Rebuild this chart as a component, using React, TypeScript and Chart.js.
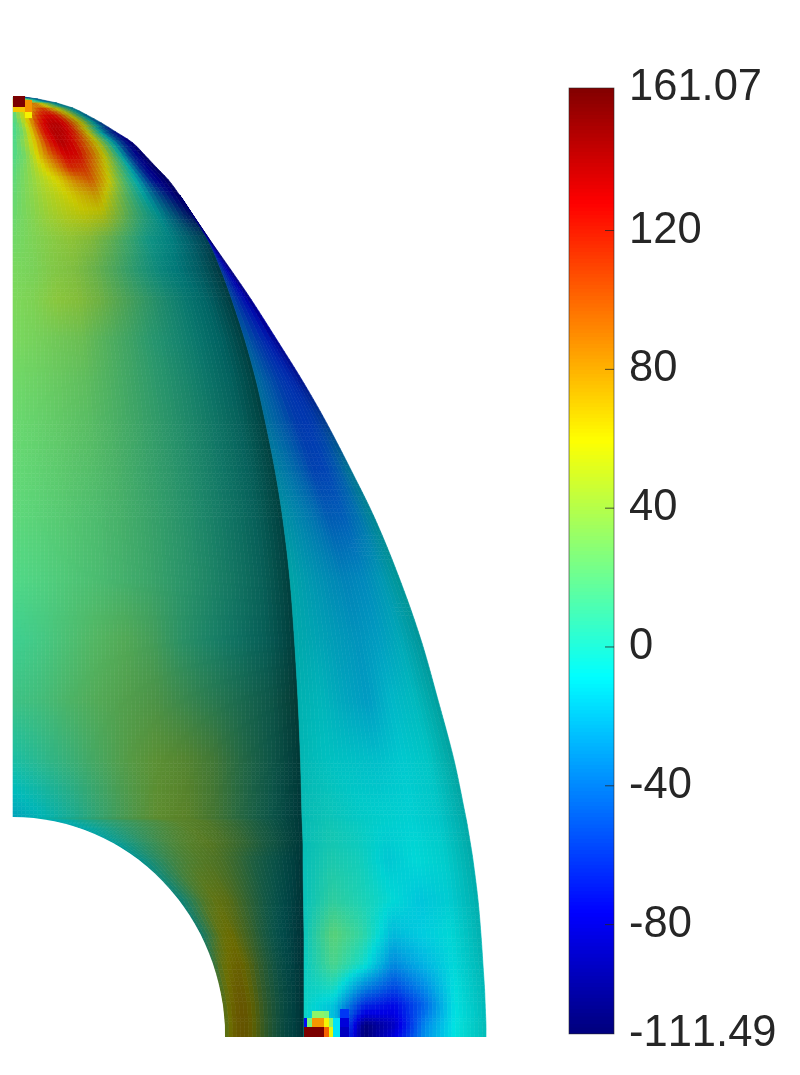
import React, { useEffect, useRef } from "react";
import { Chart, registerables } from "chart.js";

Chart.register(...registerables);

const COLOR_MIN = -111.49;
const COLOR_MAX = 161.07;
const colorbarTicks = [161.07, 120, 80, 40, 0, -40, -80, -111.49];
const colorbarInnerTicks = [120, 80, 40, 0, -40, -80];

// Mesh rows (model height) and their boundaries (model x)
const rowHeight = [9.40, 9.38, 9.34, 9.29, 9.22, 9.14, 9.05, 8.94, 8.82, 8.69, 8.57, 8.42, 8.22, 7.97, 7.67, 7.37, 6.97, 6.57, 6.17, 5.67, 5.17, 4.57, 3.97, 3.37, 2.77, 2.19, 2.16, 2.08, 1.93, 1.77, 1.37, 1.02, 0.72, 0.47, 0.32, 0.22, 0.12, 0];
const innerEdge = [0, 0, 0, 0, 0, 0, 0, 0, 0, 0, 0, 0, 0, 0, 0, 0, 0, 0, 0, 0, 0, 0, 0, 0, 0, 0, 0.40, 0.69, 1.02, 1.26, 1.66, 1.88, 2.00, 2.07, 2.10, 2.11, 2.12, 2.12];
const interfaceEdge = [0.11, 0.25, 0.44, 0.60, 0.74, 0.886, 1.03, 1.20, 1.317, 1.44, 1.555, 1.665, 1.795, 1.95, 2.08, 2.19, 2.32, 2.43, 2.52, 2.62, 2.70, 2.77, 2.815, 2.85, 2.875, 2.89, 2.892, 2.895, 2.90, 2.90, 2.905, 2.91, 2.91, 2.91, 2.91, 2.91, 2.91, 2.91];
const outerEdge = [0.11, 0.25, 0.44, 0.60, 0.74, 0.886, 1.03, 1.20, 1.317, 1.44, 1.555, 1.665, 1.80, 1.97, 2.18, 2.385, 2.64, 2.89, 3.12, 3.38, 3.625, 3.87, 4.08, 4.25, 4.41, 4.53, 4.536, 4.55, 4.575, 4.60, 4.65, 4.68, 4.70, 4.716, 4.722, 4.726, 4.73, 4.73];
const HOLE_RX = 2.12;
const HOLE_RY = 2.2;

// Field values on the front face: one row per rowHeight, 11 nodes across
const frontValues = [
  [-30, -30, -30, -30, -30, -30, -30, -30, -30, -35, -40],
  [60, 60, 50, 30, 10, 0, -10, -20, -25, -35, -45],
  [90, 90, 90, 88, 80, 70, 55, 35, 15, -10, -25],
  [20, 40, 65, 75, 95, 105, 80, 60, 40, 10, -25],
  [14, 45, 68, 100, 120, 124, 116, 82, 50, 10, -35],
  [12, 35, 75, 116, 134, 136, 122, 90, 55, 5, -50],
  [12, 28, 72, 120, 138, 134, 116, 72, 20, -35, -72],
  [13, 36, 70, 116, 138, 126, 98, 60, 10, -45, -92],
  [15, 28, 66, 100, 128, 124, 94, 56, 6, -58, -95],
  [18, 32, 55, 80, 114, 110, 78, 40, -2, -65, -95],
  [20, 33, 48, 62, 85, 98, 66, 26, -12, -70, -95],
  [22, 33, 45, 55, 66, 75, 46, 18, -12, -50, -90],
  [24, 32, 42, 50, 56, 54, 34, 13, -6, -30, -70],
  [26, 31, 36, 40, 38, 28, 14, -2, -8, -16, -25],
  [29, 30, 35, 36, 30, 20, 8, -3, -10, -14, -18],
  [30, 32, 38, 38, 33, 24, 14, 4, -5, -11, -15],
  [29, 29, 29, 29, 23, 17, 9, 3, -4, -9, -12],
  [26, 26, 26, 25, 21, 16, 10, 5, -2, -7, -10],
  [24, 24, 24, 23, 20, 16, 11, 6, 0, -5, -9],
  [22, 22, 22, 21, 19, 15, 11, 6, 0, -5, -8],
  [20, 20, 20, 19, 18, 15, 11, 6, 1, -4, -8],
  [16, 17, 18, 18, 17, 15, 11, 7, 2, -3, -7],
  [11, 14, 18, 22, 24, 20, 11, 5, 0, -4, -8],
  [12, 15, 20, 24, 26, 26, 20, 14, 8, 2, -3],
  [0, 7, 13, 20, 28, 34, 34, 28, 14, 2, -8],
  [-18, -10, 0, 12, 24, 36, 38, 30, 14, 0, -10],
  [-14, -4, 6, 16, 26, 36, 38, 28, 14, 0, -10],
  [-12, -2, 10, 20, 30, 38, 36, 26, 12, 0, -10],
  [-10, 4, 16, 28, 36, 40, 34, 24, 10, 0, -10],
  [-8, 8, 22, 32, 38, 36, 26, 12, 2, -6, -12],
  [-5, 14, 36, 48, 46, 32, 18, 5, -4, -10, -14],
  [-2, 25, 52, 58, 42, 28, 12, 0, -8, -12, -15],
  [18, 50, 62, 64, 50, 30, 15, 2, -6, -12, -15],
  [35, 58, 68, 65, 48, 28, 15, 3, -5, -11, -15],
  [40, 62, 70, 67, 50, 30, 16, 4, -5, -11, -15],
  [42, 64, 71, 67, 50, 30, 16, 4, -5, -11, -15],
  [42, 64, 71, 67, 50, 30, 16, 4, -5, -11, -15],
  [42, 64, 71, 67, 50, 30, 16, 4, -5, -11, -15],
];

// Field values on the side face: rows from rowHeight 8.42 downward, 7 nodes across
const SIDE_FIRST_ROW = 11;
const sideValues = [
  [-100, -100, -100, -100, -100, -100, -100],
  [-80, -85, -90, -92, -95, -98, -100],
  [-62, -68, -74, -80, -86, -92, -98],
  [-50, -58, -65, -72, -78, -85, -92],
  [-45, -52, -60, -66, -72, -78, -85],
  [-36, -44, -52, -58, -64, -70, -76],
  [-30, -38, -46, -54, -58, -62, -68],
  [-28, -36, -44, -54, -56, -54, -50],
  [-22, -30, -40, -52, -52, -42, -22],
  [-16, -24, -32, -42, -42, -32, -14],
  [-10, -18, -24, -29, -28, -20, -9],
  [-10, -15, -20, -24, -22, -15, -11],
  [-9, -11, -18, -23, -15, -11, -9],
  [-8, -9, -11, -13, -11, -9, -8],
  [-7, -5, -8, -9, -10, -10, -9],
  [-7, -4, -7, -9, -10, -10, -9],
  [-7, -3, -6, -10, -10, -10, -9],
  [-7, -2, -5, -11, -9, -9, -9],
  [-7, 0, -3, -13, -9, -9, -9],
  [-7, 6, 0, -8, -16, -11, -9],
  [-6, 20, 6, -20, -15, -9, -9],
  [-7, 14, -5, -36, -24, -10, -9],
  [-6, -3, -40, -58, -38, -9, -9],
  [-5, -16, -64, -75, -48, -9, -9],
  [-5, -20, -80, -80, -44, -9, -9],
  [-5, -10, -108, -88, -38, -8, -8],
  [-5, -22, -110, -80, -35, -8, -8],
];

// Single oversized cells at the two singular corners: [x0, x1, y0, y1, value]
const cornerCells = [
  [0, 0.12, 9.30, 9.41, 161],
  [0, 0.12, 9.25, 9.30, 72],
  [0.12, 0.19, 9.25, 9.37, 86],
  [0.12, 0.19, 9.19, 9.25, 60],
  [3.20, 3.27, 0, 0.19, -14],
  [3.27, 3.36, 0, 0.10, -92],
  [3.27, 3.36, 0.10, 0.19, -85],
  [3.27, 3.36, 0.19, 0.28, -62],
  [2.91, 3.11, 0, 0.10, 161],
  [3.11, 3.16, 0, 0.10, 100],
  [3.16, 3.20, 0, 0.10, 55],
  [2.91, 2.94, 0.10, 0.19, -75],
  [2.94, 2.99, 0.10, 0.19, 25],
  [2.99, 3.11, 0.10, 0.19, 85],
  [3.11, 3.16, 0.10, 0.19, 58],
  [3.16, 3.20, 0.10, 0.19, 30],
  [2.99, 3.11, 0.19, 0.26, 30],
  [3.11, 3.16, 0.19, 0.26, 25],
];

// Lighting of the surface
const frontShade = [0.85, 0.82, 0.78, 0.74, 0.69, 0.64, 0.59, 0.53, 0.46, 0.38, 0.25];
const capShade = [0.85, 0.845, 0.84, 0.83, 0.82, 0.80, 0.78, 0.72, 0.65, 0.55, 0.5];
const capBlend = [1, 1, 1, 1, 1, 1, 1, 1, 1, 1, 1, 0.75, 0.5, 0.25, 0];
const rowDim = [1, 1, 1, 1, 1, 1, 1, 1, 1, 1, 1, 1, 1, 1, 1, 1, 1, 1, 1, 1, 1, 1, 0.96, 0.9, 0.88, 0.86, 0.86, 0.86, 0.86, 0.85, 0.85, 0.85, 0.85, 0.85, 0.85, 0.85, 0.85, 0.85];
const sideShade = [0.76, 0.8, 0.82, 0.84, 0.86, 0.82, 0.68];
const sideDim = [0.8, 0.8, 0.8, 0.8, 0.8, 0.8, 0.8, 0.8, 0.82, 0.84, 0.86, 0.88, 0.91, 0.94, 0.96, 0.96, 0.97, 0.97, 0.98, 1, 1.02, 1.04, 1.06, 1.07, 1.08, 1.08, 1.08];

const TICK_COLOR = "#262626";

function lookup(table: number[], t: number) {
  const p = Math.max(0, Math.min(1, t)) * (table.length - 1);
  const i = Math.min(table.length - 2, Math.floor(p));
  return table[i] + (table[i + 1] - table[i]) * (p - i);
}

function jet(v: number): [number, number, number] {
  const t = Math.max(0, Math.min(1, (v - COLOR_MIN) / (COLOR_MAX - COLOR_MIN)));
  const ramp = (c: number) => Math.max(0, Math.min(1, 1.5 - Math.abs(4 * t - c)));
  return [ramp(3), ramp(2), ramp(1)];
}

function css(v: number, s: number) {
  const [r, g, b] = jet(v);
  const k = Math.min(1, s) * 255;
  return `rgb(${Math.round(r * k)},${Math.round(g * k)},${Math.round(b * k)})`;
}

function flatten(values: number[][], first: number, left: number[], right: number[]) {
  const nodes: { x: number; y: number; v: number }[] = [];
  values.forEach((row, i) => {
    const r = i + first;
    row.forEach((v, j) => {
      nodes.push({ x: left[r] + ((right[r] - left[r]) * j) / (row.length - 1), y: rowHeight[r], v });
    });
  });
  return nodes;
}

// Smooth rendering of a boundary through its read-off points (cubic Hermite, chord-length knots)
function curvePoint(edge: number[], r: number): [number, number] {
  const n = edge.length;
  const i = Math.max(0, Math.min(n - 2, Math.floor(r)));
  const u = r - i;
  const P = (k: number) => {
    const c = Math.max(0, Math.min(n - 1, k));
    return [edge[c], rowHeight[c]];
  };
  const d = (a: number[], b: number[]) => Math.hypot(a[0] - b[0], a[1] - b[1]) || 1e-6;
  const p0 = P(i), p1 = P(i + 1), pm = P(i - 1), pp = P(i + 2);
  const seg = d(p0, p1);
  const tan = (a: number[], b: number[], da: number, db: number) => [(b[0] - a[0]) / (da + db), (b[1] - a[1]) / (da + db)];
  const m0 = tan(pm, p1, i > 0 ? d(pm, p0) : 0, seg);
  const m1 = tan(p0, pp, seg, i + 2 < n ? d(p1, pp) : 0);
  const h00 = 2 * u * u * u - 3 * u * u + 1, h10 = u * u * u - 2 * u * u + u;
  const h01 = -2 * u * u * u + 3 * u * u, h11 = u * u * u - u * u;
  return [
    h00 * p0[0] + h10 * seg * m0[0] + h01 * p1[0] + h11 * seg * m1[0],
    h00 * p0[1] + h10 * seg * m0[1] + h01 * p1[1] + h11 * seg * m1[1],
  ];
}

function linearPoint(edge: number[], r: number): [number, number] {
  const i = Math.max(0, Math.min(edge.length - 2, Math.floor(r)));
  const u = r - i;
  return [edge[i] + (edge[i + 1] - edge[i]) * u, rowHeight[i] + (rowHeight[i + 1] - rowHeight[i]) * u];
}

const meshPlugin = {
  id: "mesh",
  beforeKerningNoop: null,
  beforeDatasetsDraw(chart: any) {
    const { ctx, scales } = chart;
    const X = (x: number) => scales.x.getPixelForValue(x);
    const Y = (y: number) => scales.y.getPixelForValue(y);

    const drawGrid = (
      nodes: any[],
      first: number,
      rows: number,
      cols: number,
      leftAt: (r: number) => [number, number],
      rightAt: (r: number) => [number, number],
      shadeAt: (x: number, u: number, r: number) => number
    ) => {
      for (let i = 0; i < rows - 1; i++) {
        for (let j = 0; j < cols - 1; j++) {
          const a = nodes[i * cols + j], b = nodes[i * cols + j + 1];
          const c = nodes[(i + 1) * cols + j], d = nodes[(i + 1) * cols + j + 1];
          const nr = Math.max(1, Math.round(Math.abs(Y(c.y) - Y(a.y)) / 4));
          const wid = Math.max(Math.abs(X(b.x) - X(a.x)), Math.abs(X(d.x) - X(c.x)));
          const nc = Math.max(1, Math.round(wid / 4));
          for (let p = 0; p < nr; p++) {
            for (let q = 0; q < nc; q++) {
              const pt = (s: number, t: number): [number, number] => {
                const r = first + i + s;
                const L = leftAt(r), R = rightAt(r);
                const f = (j + t) / (cols - 1);
                return [L[0] + (R[0] - L[0]) * f, L[1] + (R[1] - L[1]) * f];
              };
              const s0 = p / nr, s1 = (p + 1) / nr, t0 = q / nc, t1 = (q + 1) / nc;
              const sm = (s0 + s1) / 2, tm = (t0 + t1) / 2;
              const top = a.v + (b.v - a.v) * tm, bot = c.v + (d.v - c.v) * tm;
              const v = top + (bot - top) * sm;
              const [mx] = pt(sm, tm);
              const col = css(v, shadeAt(mx, (j + tm) / (cols - 1), first + i + sm));
              const pts = [pt(s0, t0), pt(s0, t1), pt(s1, t1), pt(s1, t0)];
              ctx.beginPath();
              pts.forEach(([x, y], k) => (k ? ctx.lineTo(X(x), Y(y)) : ctx.moveTo(X(x), Y(y))));
              ctx.closePath();
              ctx.fillStyle = col;
              ctx.strokeStyle = col;
              ctx.lineWidth = 0.6;
              ctx.fill();
              ctx.stroke();
            }
          }
        }
      }
    };

    const interpRow = (arr: number[], r: number) => {
      const i = Math.max(0, Math.min(arr.length - 2, Math.floor(r)));
      return arr[i] + (arr[i + 1] - arr[i]) * (r - i);
    };

    drawGrid(
      chart.data.datasets[0].data, 0, frontValues.length, frontValues[0].length,
      (r) => linearPoint(innerEdge, r),
      (r) => curvePoint(interfaceEdge, r),
      (x, _u, r) => {
        const xf = x / interpRow(interfaceEdge, r);
        const blend = r < capBlend.length - 1 ? interpRow(capBlend, r) : 0;
        const s = lookup(frontShade, xf) * (1 - blend) + lookup(capShade, xf) * blend;
        return s * interpRow(rowDim, r);
      }
    );
    drawGrid(
      chart.data.datasets[1].data, SIDE_FIRST_ROW, sideValues.length, sideValues[0].length,
      (r) => curvePoint(interfaceEdge, r),
      (r) => curvePoint(outerEdge, r),
      (_x, u, r) => lookup(sideShade, u) * interpRow(sideDim, r - SIDE_FIRST_ROW)
    );

    // The hole of the shell
    ctx.save();
    ctx.fillStyle = "#fff";
    ctx.beginPath();
    ctx.ellipse(X(0), Y(0), X(HOLE_RX) - X(0), Y(0) - Y(HOLE_RY), 0, 0, Math.PI * 2);
    ctx.fill();
    ctx.fillRect(X(-0.13), Y(0), X(5.47) - X(-0.13), Y(-0.38) - Y(0));
    ctx.restore();

    cornerCells.forEach(([x0, x1, y0, y1, v]) => {
      ctx.fillStyle = css(v, 0.96);
      ctx.fillRect(X(x0), Y(y1), X(x1) - X(x0), Y(y0) - Y(y1));
    });
  },
};

const colorbarPlugin = {
  id: "colorbarFrame",
  beforeDraw(chart: any) {
    chart.ctx.fontKerning = "none";
  },
  afterDatasetsDraw(chart: any) {
    const { ctx, chartArea: a, scales } = chart;
    ctx.save();
    ctx.strokeStyle = TICK_COLOR;
    ctx.lineWidth = 0.8;
    colorbarInnerTicks.forEach((t) => {
      const y = scales.y.getPixelForValue(t);
      ctx.beginPath();
      ctx.moveTo(a.right - 9, y);
      ctx.lineTo(a.right, y);
      ctx.stroke();
    });
    ctx.globalAlpha = 0.7;
    ctx.strokeRect(a.left, a.top, a.right - a.left, a.bottom - a.top);
    ctx.restore();
  },
};

export default function App() {
  const fieldRef = useRef<HTMLCanvasElement>(null);
  const barRef = useRef<HTMLCanvasElement>(null);

  useEffect(() => {
    const field = new Chart(fieldRef.current as any, {
      type: "scatter",
      plugins: [meshPlugin],
      data: {
        datasets: [
          { label: "front", data: flatten(frontValues, 0, innerEdge, interfaceEdge), pointRadius: 0, showLine: false },
          { label: "side", data: flatten(sideValues, SIDE_FIRST_ROW, interfaceEdge, outerEdge), pointRadius: 0, showLine: false },
        ],
      } as any,
      options: {
        responsive: false,
        animation: false,
        events: [],
        layout: { padding: 0 },
        plugins: { legend: { display: false }, tooltip: { enabled: false } },
        scales: {
          x: { type: "linear", display: false, min: -0.13, max: 5.47 },
          y: { type: "linear", display: false, min: -0.38, max: 10.37 },
        },
      },
    });

    const LEVELS = 256;
    const step = (COLOR_MAX - COLOR_MIN) / LEVELS;
    const bars = Array.from({ length: LEVELS }, (_, i) => {
      const lo = COLOR_MIN + i * step;
      const hi = Math.min(COLOR_MAX, lo + step * 1.6);
      return {
        label: `level ${i}`,
        data: [[lo, hi]],
        backgroundColor: css(lo + step / 2, 1),
        borderWidth: 0,
        barPercentage: 1,
        categoryPercentage: 1,
        grouped: false,
      };
    });

    const bar = new Chart(barRef.current as any, {
      type: "bar",
      plugins: [colorbarPlugin],
      data: { labels: ["colorbar"], datasets: bars } as any,
      options: {
        responsive: false,
        animation: false,
        events: [],
        layout: { autoPadding: false, padding: { left: 9, right: 0, top: 88, bottom: 28 } },
        plugins: { legend: { display: false }, tooltip: { enabled: false } },
        scales: {
          x: { display: false, offset: true, grid: { display: false } },
          y: {
            position: "right",
            min: COLOR_MIN,
            max: COLOR_MAX,
            grid: { display: false, drawTicks: false },
            border: { display: false },
            afterBuildTicks: (scale: any) => {
              scale.ticks = colorbarTicks.map((value) => ({ value }));
            },
            afterFit: (scale: any) => {
              scale.width = 186;
            },
            ticks: {
              autoSkip: false,
              padding: 15,
              color: TICK_COLOR,
              font: { family: "'Liberation Sans', Arial, sans-serif", size: 43.5 },
              callback: (value: any) => String(value),
            },
          },
        },
      } as any,
    });

    return () => {
      field.destroy();
      bar.destroy();
    };
  }, []);

  return (
    <div style={{ position: "absolute", left: 0, top: 0, width: 800, height: 1075, background: "#fff", overflow: "hidden" }}>
      <canvas ref={fieldRef} width={560} height={1075} style={{ position: "absolute", left: 0, top: 0, display: "block" }} />
      <canvas ref={barRef} width={240} height={1075} style={{ position: "absolute", left: 560, top: 0, display: "block" }} />
    </div>
  );
}
